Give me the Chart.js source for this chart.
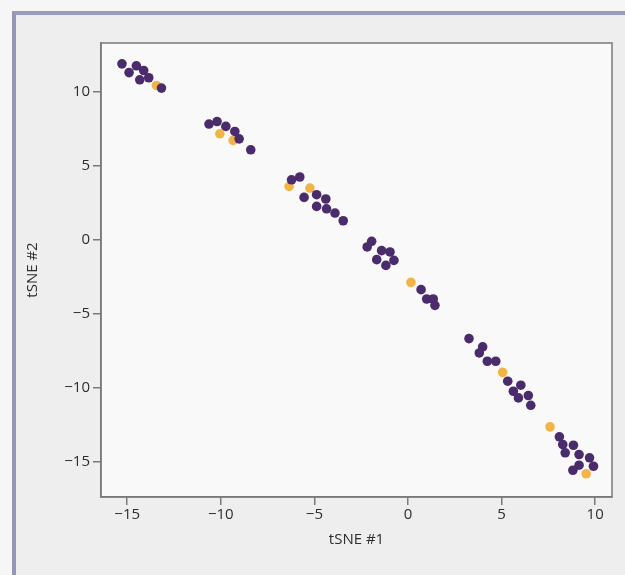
<!DOCTYPE html>
<html>
<head>
<meta charset="utf-8">
<script src="https://cdn.jsdelivr.net/npm/chart.js@4.4.1/dist/chart.umd.min.js"></script>
<style>
  html, body { margin: 0; padding: 0; background: #f6f6f6; }
  #page {
    position: absolute; left: 12px; top: 11px; width: 613px; height: 564px;
    background: #eeeeee;
    border-left: 4px solid #9597b8; border-top: 4px solid #9a9cbd;
    box-sizing: border-box;
  }
  #wrap { position: absolute; left: 0; top: 0; width: 625px; height: 575px; }
</style>
</head>
<body>
<div id="page"></div>
<div id="wrap"><canvas id="chart" width="625" height="575"></canvas></div>
<script>
// tSNE embedding
const purpleX = [-15.28, -14.51, -14.90, -14.12, -14.33, -13.85, -13.17,
                 -10.63, -10.20, -9.73, -9.25, -9.02, -8.40,
                 -6.22, -5.78, -4.88, -5.55, -4.39, -4.88, -4.35, -3.90, -3.46,
                 -1.94, -2.18, -1.41, -0.96, -1.67, -0.75, -1.18,
                 0.70, 1.00, 1.35, 1.44,
                 3.26, 3.99, 3.81, 4.24, 4.69, 5.33, 6.03, 5.63, 6.43, 5.90, 6.56,
                 8.09, 8.27, 8.84, 8.40, 9.14, 9.70, 9.14, 8.81, 9.91];
const purpleY = [11.89, 11.76, 11.30, 11.44, 10.81, 10.95, 10.25,
                 7.82, 7.99, 7.66, 7.32, 6.82, 6.08,
                 4.05, 4.24, 3.04, 2.86, 2.75, 2.25, 2.09, 1.80, 1.28,
                 -0.11, -0.49, -0.74, -0.83, -1.35, -1.40, -1.74,
                 -3.38, -4.01, -4.01, -4.44,
                 -6.69, -7.25, -7.66, -8.22, -8.22, -9.57, -9.84, -10.25, -10.54, -10.70, -11.20,
                 -13.33, -13.85, -13.90, -14.41, -14.53, -14.75, -15.25, -15.59, -15.32];
const yellowX = [-13.44, -10.05, -9.34, -6.35, -5.24, 0.16, 5.06, 7.59, 9.52];
const yellowY = [10.43, 7.16, 6.71, 3.60, 3.49, -2.89, -8.97, -12.66, -15.83];

const xTicks = [-15, -10, -5, 0, 5, 10];
const yTicks = [-15, -10, -5, 0, 5, 10];

function toPoints(xs, ys) {
  return xs.map((x, i) => ({ x: x, y: ys[i] }));
}

function fmt(v) {
  return String(v).replace('-', '\u2212');
}

// white plot area + full frame box
const frame = {
  id: 'frame',
  beforeDraw(chart) {
    const a = chart.chartArea, c = chart.ctx;
    c.save();
    c.fillStyle = '#f9f9f9';
    c.fillRect(a.left, a.top, a.right - a.left, a.bottom - a.top);
    c.restore();
  },
  afterDatasetsDraw(chart) {
    const a = chart.chartArea, c = chart.ctx;
    c.save();
    c.strokeStyle = '#7a7a7a';
    c.lineWidth = 1.5;
    c.strokeRect(a.left, a.top, a.right - a.left, a.bottom - a.top);
    c.restore();
  }
};

const tickFont = { family: 'Open Sans', size: 15 };
const titleFont = { family: 'Open Sans', size: 15 };
const textColor = '#2e2e2e';

new Chart(document.getElementById('chart'), {
  type: 'scatter',
  data: {
    datasets: [
      {
        data: toPoints(purpleX, purpleY),
        backgroundColor: '#4a2b6c',
        borderWidth: 0,
        pointRadius: 4.8
      },
      {
        data: toPoints(yellowX, yellowY),
        backgroundColor: '#f2b445',
        borderWidth: 0,
        pointRadius: 4.8
      }
    ]
  },
  options: {
    responsive: false,
    animation: false,
    layout: { padding: { top: 43, right: 13, left: 0, bottom: 0 } },
    plugins: { legend: { display: false }, tooltip: { enabled: false } },
    scales: {
      x: {
        type: 'linear',
        min: -16.4,
        max: 10.9,
        afterBuildTicks: s => { s.ticks = xTicks.map(v => ({ value: v })); },
        afterFit: s => { s.height = 78; },
        border: { display: true, color: '#7a7a7a', width: 1.5 },
        grid: { drawOnChartArea: false, drawTicks: true, tickLength: 8, color: '#7a7a7a', lineWidth: 1.5 },
        ticks: { color: textColor, font: tickFont, padding: 1, maxRotation: 0, callback: v => fmt(v) },
        title: { display: true, text: 'tSNE #1', color: textColor, font: titleFont, padding: { top: 0, bottom: 26 } }
      },
      y: {
        type: 'linear',
        min: -17.4,
        max: 13.3,
        afterBuildTicks: s => { s.ticks = yTicks.map(v => ({ value: v })); },
        afterFit: s => { s.width = 101; },
        border: { display: true, color: '#7a7a7a', width: 1.5 },
        grid: { drawOnChartArea: false, drawTicks: true, tickLength: 8, color: '#7a7a7a', lineWidth: 1.5 },
        ticks: { color: textColor, font: tickFont, padding: 3, callback: v => fmt(v) },
        title: { display: true, text: 'tSNE #2', color: textColor, font: titleFont, padding: { top: 24, bottom: 0 } }
      }
    }
  },
  plugins: [frame]
});
</script>
</body>
</html>
